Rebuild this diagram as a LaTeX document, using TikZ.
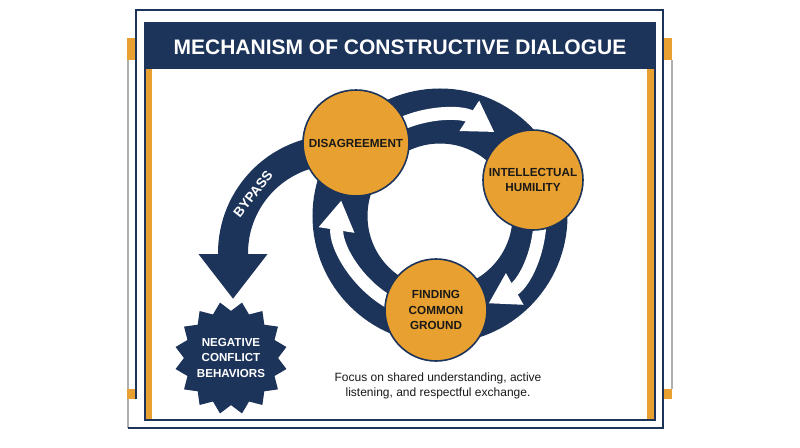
\documentclass[tikz,border=0pt]{standalone}
\usepackage{fontspec}
\setmainfont{Liberation Sans}
\usetikzlibrary{arrows.meta,shapes.geometric,calc}
\definecolor{navy}{RGB}{28,51,90}
\definecolor{gold}{RGB}{232,160,48}
\definecolor{greyline}{RGB}{175,175,175}
\definecolor{ink}{RGB}{25,25,25}
\tikzset{
  stage/.style={circle, fill=gold, draw=navy, line width=1.6pt, inner sep=0pt,
    align=center, text=ink, font=\fontsize{11.7}{15}\selectfont\bfseries},
  flowarrow/.style={white, line width=13pt, -{Triangle[width=34pt,length=30pt]}},
  frameline/.style={navy, line width=1.5pt},
  sideline/.style={greyline, line width=1.2pt}
}
\begin{document}
\begin{tikzpicture}[x=1pt,y=-1pt]
\useasboundingbox (0,0) rectangle (800,447);
\fill[white] (0,0) rectangle (800,447);

% outer decorations
\draw[sideline] (128,60) -- (128,428);
\draw[sideline] (672,60) -- (672,389);
\fill[gold] (127,38) rectangle (136,60);
\fill[gold] (127,389) rectangle (136,399);
\fill[gold] (664,38) rectangle (672,60);
\fill[gold] (664,389) rectangle (672,399);
\draw[frameline] (136,399) -- (136,10) -- (663,10) -- (663,428) -- (128,428);

% inner frame and title bar
\fill[gold] (145,69) rectangle (152,419);
\fill[gold] (647,69) rectangle (654,419);
\draw[frameline] (145,23) rectangle (655,420);
\fill[navy] (145,23) rectangle (655,69);
\node[text=white, font=\fontsize{21}{21}\selectfont\bfseries] (title) at (400,47)
  {MECHANISM OF CONSTRUCTIVE DIALOGUE};

% cycle ring
\coordinate (ringc) at (440,216);
\draw[navy, line width=55pt] (ringc) circle[radius=100];

% bypass arrow
\coordinate (bpc) at (336,253);
\draw[navy, line width=30pt, -{Triangle[width=66pt,length=45pt]}]
  ($(bpc)+(-75:103)$) arc[start angle=-75, end angle=-180, radius=103] -- ++(0,46);
\node[rotate=52, text=white, font=\fontsize{13.5}{13.5}\selectfont\bfseries] (bypass) at (253,194) {BYPASS};

% white flow arrows inside the ring
\draw[flowarrow] ($(ringc)+(-122:100)$) arc[start angle=-122, end angle=-57, radius=100];
\draw[flowarrow] ($(ringc)+(-10:100)$) arc[start angle=-10, end angle=61, radius=100];
\draw[flowarrow] ($(ringc)+(-245:100)$) arc[start angle=-245, end angle=-171, radius=100];

% stage circles
\node[stage, minimum size=106pt] (dis) at (356,143) {DISAGREEMENT};
\node[stage, minimum size=100pt] (hum) at (533,180) {INTELLECTUAL\\HUMILITY};
\node[stage, minimum size=102pt, font=\fontsize{11.7}{15.5}\selectfont\bfseries] (cg) at (436,310) {FINDING\\COMMON\\GROUND};

% negative outcome
\node[star, star points=16, star point ratio=1.2, fill=navy, minimum size=113pt,
  inner sep=0pt, shape border rotate=11.25] (neg) at (231,358) {};
\node[text=white, align=center, font=\fontsize{11.6}{15.5}\selectfont\bfseries] (negtext) at (neg.center)
  {NEGATIVE\\CONFLICT\\BEHAVIORS};

% caption
\node[align=center, text=ink, font=\fontsize{12}{14.5}\selectfont] (caption) at (438,386)
  {Focus on shared understanding, active\\listening, and respectful exchange.};
\end{tikzpicture}
\end{document}
